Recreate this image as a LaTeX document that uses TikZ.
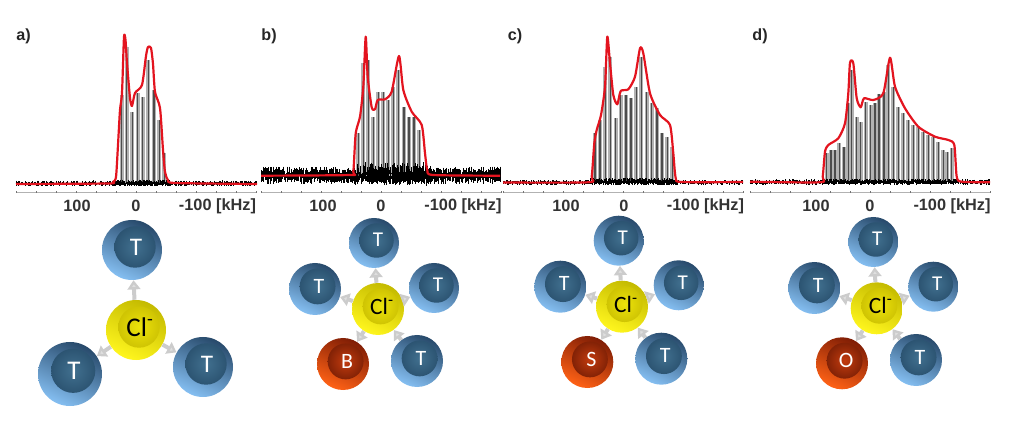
\documentclass[tikz,border=0pt]{standalone}
\usepackage{fontspec}
\setmainfont{Liberation Sans}
\newfontfamily\ballfont{Carlito}
\usetikzlibrary{arrows.meta,calc}

\definecolor{tdark}{HTML}{27496A}
\definecolor{tmid}{HTML}{3B6A92}
\definecolor{tlight}{HTML}{85BFF2}
\definecolor{tdisc}{HTML}{41708F}
\definecolor{tdiscedge}{HTML}{2C5472}
\definecolor{rdark}{HTML}{7F1D05}
\definecolor{rmid}{HTML}{C2350B}
\definecolor{rlight}{HTML}{FF6216}
\definecolor{rdisc}{HTML}{C23B0E}
\definecolor{rdiscedge}{HTML}{822206}
\definecolor{ydark}{HTML}{C4BA00}
\definecolor{ymid}{HTML}{EDE208}
\definecolor{ylight}{HTML}{FFF61E}
\definecolor{ydisc}{HTML}{EDE30A}
\definecolor{ydiscedge}{HTML}{CFC403}
\definecolor{redline}{HTML}{E3141F}

\newcommand{\balltext}[1]{\hspace*{2mm}\raisebox{1.4mm}{#1}}
\newcommand{\ballsize}[1]{\pgfmathsetmacro{\ballpt}{#1}\fontsize{\ballpt}{12}\selectfont}
\newcommand{\sidebands}[2]{%
  \foreach \x/\y in {#2} {
    \draw [sideband] (\x,#1) -- (\x,\y);
    \draw [sidecore] (\x,#1) -- (\x,\y);
  }}
\newcommand{\khzaxis}[2]{%
  \draw [axisline] (#1,192.5) -- (#2,192.5);
  \foreach \t in {0,...,12}
    \draw [axistick] ({#1+\t*20},191.5) -- ++(0,2);}
\newcommand{\noiseband}[4]{%
  \pgfmathtruncatemacro{\ncount}{(#2-#1)/0.7}
  \draw [noise] foreach \n in {0,...,\ncount}
    { ({#1+\n*0.7},{#3-#4*rnd}) -- ({#1+\n*0.7},{#3+#4*rnd}) };}

\begin{document}
\begin{tikzpicture}[x=0.25mm,y=-0.25mm]
\tikzset{
  ball/.style n args={7}{circle, minimum size=#1mm, inner sep=0pt, text=#7,
    path picture={
      \shade [top color=#2, middle color=#3, bottom color=#4, shading angle=-25]
        (path picture bounding box.south west) rectangle (path picture bounding box.north east);
      \shade [inner color=#5, outer color=#6]
        ($(path picture bounding box.center)+({#1*0.05mm},{#1*0.05mm})$) circle ({#1*0.345mm});
    }},
  tball/.style={ball={#1}{tdark}{tmid}{tlight}{tdisc}{tdiscedge}{white}, font=\ballfont\ballsize{#1*1.2}},
  rball/.style={ball={#1}{rdark}{rmid}{rlight}{rdisc}{rdiscedge}{white}, font=\ballfont\ballsize{#1*1.2}},
  clball/.style={ball={#1}{ydark}{ymid}{ylight}{ydisc}{ydiscedge}{black}, font=\ballfont\ballsize{#1*1.28}}
}
\tikzstyle{bond} = [draw=gray!40, line width=1mm, -{Triangle[length=2.3mm,width=3.2mm,fill=gray!25]}]
\tikzstyle{panel} = [font=\bfseries\fontsize{11.5}{13}\selectfont, text=black!85]
\tikzstyle{scale label} = [font=\bfseries\fontsize{11.6}{13}\selectfont, text=black!80]
\tikzstyle{sideband} = [draw=gray!60, line width=1mm]
\tikzstyle{sidecore} = [draw=black!70, line width=0.3mm]
\tikzstyle{axisline} = [draw=gray!60, line width=0.35mm]
\tikzstyle{axistick} = [draw=gray!90!black, line width=0.15mm]
\tikzstyle{noise} = [draw=black, line width=0.2mm]
\tikzstyle{fit line} = [draw=redline, line width=0.55mm, line join=round]

\useasboundingbox (0,0) rectangle (1024,425);
\pgfmathsetseed{11}

\node (la) [panel] at (23.5,36) {a)};
\node (lb) [panel] at (269,36) {b)};
\node (lc) [panel] at (515,36) {c)};
\node (ld) [panel] at (760,36) {d)};

\khzaxis{16}{257}
\khzaxis{261}{501}
\khzaxis{503}{743}
\khzaxis{750}{990}

\noiseband{16}{257}{183.5}{3}
\sidebands{183}{121.7/95,126.7/46.7,132.3/111.7,137.7/93,142.7/97,148.3/60,154/90,159.3/120,164.3/153}
\noiseband{115}{170}{183}{3.5}
\draw [fit line] plot [smooth, tension=0.4] coordinates {(16,184) (108,183.5) (113,182) (116,177) (118,145) (120,110) (122,93) (124,37) (125.5,40) (127,63) (130,98) (132,106) (135,93) (142,85) (146,56) (148,47) (151,48) (153,64) (155,92) (160,108) (163,150) (165,172) (168,180) (175,183) (257,184)};

\noiseband{261}{501}{175.5}{9}
\noiseband{261}{501}{175.5}{7}
\sidebands{176}{358.3/133,363.3/63,368.3/60,373.3/117,378.3/92,383.3/92,388.3/100,393.3/87,398.3/70,404/107,409/117,414/117,419.3/130}
\noiseband{353}{430}{174}{12}
\draw [fit line] plot [smooth, tension=0.4] coordinates {(261,175.7) (350,175) (353.3,171.7) (355.7,133.3) (360,116.7) (363.3,86.7) (365.7,36.7) (367.7,76.7) (371.7,107.3) (375,109.3) (377.7,100) (385,99.3) (391.7,91.7) (399,56) (403.3,90) (411.7,111.7) (421.7,125) (425,153.3) (427.3,170) (433.3,175) (500,175.7)};

\noiseband{503}{743}{182.5}{2.5}
\sidebands{182}{595/133,600/120,605.3/66.7,610.3/56.7,615.7/118,620.7/95,626/95,631/98,636.3/86.7,641.3/56.7,646.7/91.7,651.7/103,657/108,662/133,667.3/137,672.3/147}
\noiseband{590}{678}{181.5}{3.5}
\draw [fit line] plot [smooth, tension=0.4] coordinates {(503,182.5) (588.3,182.3) (591.7,176.7) (594.3,143.3) (596.7,130) (601,115) (605,86.7) (607.3,36.7) (610,63.3) (613.3,95) (617.3,104.3) (620.7,91) (628.3,89.3) (635,76.7) (640,48.3) (643.3,53.3) (650,93.3) (660,115) (670,125) (673.3,153.3) (675.7,178) (681.7,182) (743,182)};

\noiseband{750}{990}{182}{2.8}
\sidebands{182}{826.7/153,831/150,835/150,839.3/143,844/147,848.3/103,851.7/70,856.7/117,860.7/122,865.7/102,870.7/105,875/103,879/94,884/92,888.3/65,893.3/87,898.3/107,903.3/113,908.3/120,913.3/125,918.3/127,923.3/132,928.3/135,933.3/137,938.3/142,943.3/150,947.3/152,951.7/148}
\noiseband{822}{958}{181.5}{3}
\draw [fit line] plot [smooth, tension=0.4] coordinates {(750,181.7) (820,182.3) (822.7,176.7) (825,151.7) (828.3,145) (838.3,138.3) (845,123.3) (848.3,93.3) (850,62.7) (853.3,63.3) (856.7,98.3) (860.7,107.3) (864,98.3) (873.3,100) (883.3,93.3) (890,57.7) (895,86.7) (905,108.3) (918.3,126.7) (935,136.7) (948.3,140) (954.3,145) (956.7,176.7) (961.7,181.7) (990,182.3)};

\node (a100) [scale label] at (77,206) {100};
\node (a0) [scale label] at (136,206) {0};
\node (akhz) [scale label] at (217.5,206) {-100 [kHz]};
\node (b100) [scale label] at (323,206) {100};
\node (b0) [scale label] at (381,206) {0};
\node (bkhz) [scale label] at (463,206) {-100 [kHz]};
\node (c100) [scale label] at (566,206) {100};
\node (c0) [scale label] at (624,206) {0};
\node (ckhz) [scale label] at (705.5,206) {-100 [kHz]};
\node (d100) [scale label] at (816,206) {100};
\node (d0) [scale label] at (870,206) {0};
\node (dkhz) [scale label] at (952,206) {-100 [kHz]};

\node (acl) [clball=15] at (136,330) {\balltext{Cl\textsuperscript{-}}};
\node (at1) [tball=15] at (132,250) {\balltext{T}};
\node (at2) [tball=16] at (70,374) {\balltext{T}};
\node (at3) [tball=15] at (203,367) {\balltext{T}};
\path [bond] (acl) edge (at1)
             (acl) edge (at2)
             (acl) edge (at3);

\node (bcl) [clball=13] at (378,309) {\balltext{Cl\textsuperscript{-}}};
\node (bt1) [tball=12.5] at (374,243) {\balltext{T}};
\node (bt2) [tball=13] at (315,289) {\balltext{T}};
\node (bt3) [tball=12.5] at (434,288) {\balltext{T}};
\node (bt4) [tball=13] at (417,361) {\balltext{T}};
\node (bx) [rball=13] at (343,364) {\balltext{B}};
\path [bond] (bcl) edge (bt1)
             (bcl) edge (bt2)
             (bcl) edge (bt3)
             (bt4) edge (bcl)
             (bcl) edge (bx);

\node (ccl) [clball=13] at (622,306.7) {\balltext{Cl\textsuperscript{-}}};
\node (ct1) [tball=12.5] at (618.7,240.7) {\balltext{T}};
\node (ct2) [tball=13] at (560.3,286.7) {\balltext{T}};
\node (ct3) [tball=12.5] at (678.7,285.3) {\balltext{T}};
\node (ct4) [tball=13] at (661.3,358.7) {\balltext{T}};
\node (cx) [rball=13] at (587.3,362) {\balltext{S}};
\path [bond] (ccl) edge (ct1)
             (ccl) edge (ct2)
             (ccl) edge (ct3)
             (ct4) edge (ccl)
             (ccl) edge (cx);

\node (dcl) [clball=13] at (876.7,308.3) {\balltext{Cl\textsuperscript{-}}};
\node (dt1) [tball=12.5] at (873.3,242) {\balltext{T}};
\node (dt2) [tball=13] at (814.3,288) {\balltext{T}};
\node (dt3) [tball=12.5] at (933.3,286.7) {\balltext{T}};
\node (dt4) [tball=13] at (916,360) {\balltext{T}};
\node (dx) [rball=13] at (842,363.3) {\balltext{O}};
\path [bond] (dcl) edge (dt1)
             (dcl) edge (dt2)
             (dcl) edge (dt3)
             (dt4) edge (dcl)
             (dcl) edge (dx);
\end{tikzpicture}
\end{document}
